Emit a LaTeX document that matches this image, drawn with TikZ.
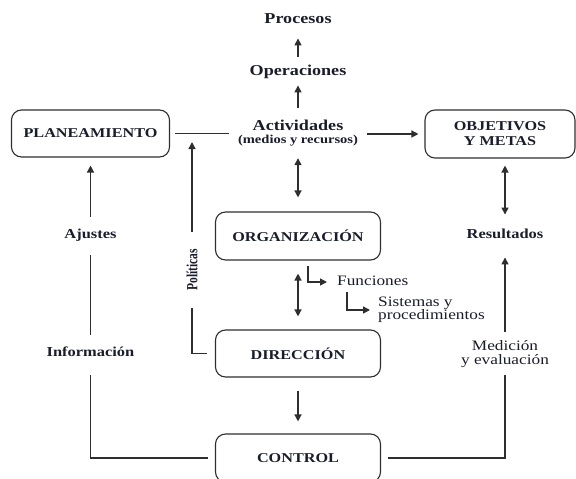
\documentclass[tikz,border=0pt]{standalone}
\usepackage{fontspec}
\setmainfont{Liberation Serif}[FakeStretch=1.2]
\newfontfamily\polfont{Liberation Serif}
\usetikzlibrary{arrows.meta}
\definecolor{txt}{HTML}{1A1C2A}
\definecolor{lncol}{HTML}{2E2E2E}
\begin{document}
\begin{tikzpicture}[x=1pt,y=-1pt,
  box/.style={draw=lncol, line width=1.1pt, rounded corners=10pt, minimum height=48pt,
    inner sep=0pt, text=txt, align=center,
    font=\fontsize{13.5pt}{15pt}\selectfont\bfseries},
  lbl/.style={inner sep=0pt, text height=9.5pt, text depth=3pt, text=txt},
  toplbl/.style={lbl, font=\fontsize{15.1pt}{16pt}\selectfont\bfseries},
  sidelbl/.style={lbl, font=\fontsize{13.7pt}{15pt}\selectfont\bfseries},
  reglbl/.style={inner sep=0pt, text=txt, font=\fontsize{14.4pt}{13.5pt}\selectfont},
  conn/.style={draw=lncol, line width=1.4pt},
  arr/.style={conn, -{Triangle[length=7pt,width=7pt]}},
  darr/.style={conn, {Triangle[length=7pt,width=7pt]}-{Triangle[length=7pt,width=7pt]}},
]
\clip (0,0) rectangle (576,479);
% boxes
\node[box, minimum width=158pt, minimum height=47pt] (plan) at (90.5,133.5) {PLANEAMIENTO};
\node[box, minimum width=150pt] (obj) at (500,134) {OBJETIVOS\\Y METAS};
\node[box, minimum width=165pt] (org) at (298,236) {ORGANIZACIÓN};
\node[box, minimum width=165pt, minimum height=47pt] (dir) at (298,353.5) {DIRECCIÓN};
\node[box, minimum width=165pt] (ctrl) at (298,458) {CONTROL};
% labels
\node[toplbl] (proc) at (298,20) {Procesos};
\node[toplbl] (oper) at (298,72) {Operaciones};
\node[toplbl] (act) at (298,127) {Actividades};
\node[inner sep=0pt, text height=8pt, text depth=2.5pt, text=txt,
  font=\fontsize{12.1pt}{12pt}\selectfont\bfseries] (medios) at (298,141) {(medios y recursos)};
\node[sidelbl] (ajus) at (90.5,235) {Ajustes};
\node[sidelbl] (info) at (90.5,353) {Información};
\node[sidelbl] (res) at (505,235) {Resultados};
\node[reglbl, align=center, font=\fontsize{14.4pt}{14pt}\selectfont] (med) at (505,353.7) {Medición\\y evaluación};
\node[reglbl, text height=9.5pt, text depth=3pt, anchor=west] (func) at (337,282) {Funciones};
\node[reglbl, align=left, anchor=west] (sist) at (378,310) {Sistemas y\\procedimientos};
\node[inner sep=0pt, rotate=90, text=txt, font=\polfont\fontsize{11.5pt}{12pt}\selectfont\bfseries]
  (pol) at (192,270) {\scalebox{1}[1.35]{Políticas}};
% center column
\draw[arr, shorten <=9pt, shorten >=12pt] (oper) -- (proc);
\draw[arr, shorten <=13pt, shorten >=7pt] (act) -- (oper);
\draw[darr, shorten <=11.75pt, shorten >=14pt] (medios) -- (org);
\draw[darr, shorten <=13pt, shorten >=13pt] (org) -- (dir);
\draw[arr, shorten <=13pt, shorten >=12pt] (dir) -- (ctrl);
% horizontal line and arrow
\draw[conn, shorten <=5pt, shorten >=24pt] (plan) -- (plan -| act.west);
\draw[arr, shorten <=23pt, shorten >=6pt] (act.east |- obj) -- (obj);
% left loop
\draw[conn, shorten <=7pt, shorten >=16pt] (ctrl) -| (info);
\draw[conn, shorten <=12pt, shorten >=14pt] (info) -- (ajus);
\draw[arr, shorten <=12pt, shorten >=8pt] (ajus) -- (plan);
% right loop
\draw[conn, shorten <=7pt, shorten >=8pt] (ctrl) -| (med);
\draw[arr, shorten <=8pt, shorten >=16pt] (med) -- (res);
\draw[darr, shorten <=14pt, shorten >=7pt] (res) -- (res |- obj.south);
% politicas
\draw[conn, shorten <=8pt, shorten >=17pt] (dir) -| (pol);
\draw[arr, shorten <=17pt, shorten >=8.5pt] (pol) -- (pol |- plan);
% funciones
\draw[arr, shorten >=10pt] ([xshift=10pt,yshift=-5pt]org.south) |- (func);
\draw[arr, shorten >=8pt] ([xshift=10pt,yshift=-4pt]func.south west) |- (sist);
\end{tikzpicture}
\end{document}
